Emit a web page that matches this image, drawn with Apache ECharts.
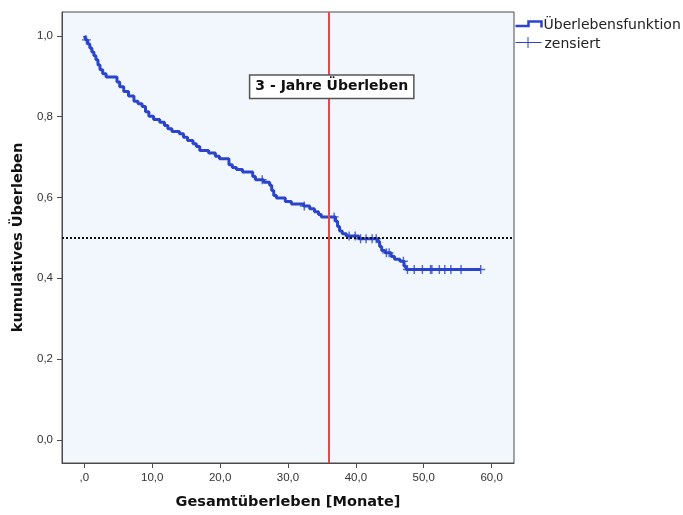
<!DOCTYPE html>
<html>
<head>
<meta charset="utf-8">
<script src="https://cdn.jsdelivr.net/npm/echarts@6/dist/echarts.min.js"></script>
<style>
  html, body { margin: 0; padding: 0; background: #ffffff; }
  #chart { width: 683px; height: 515px; }
</style>
</head>
<body>
<div id="chart"></div>
<script>
// Kaplan-Meier estimate: each entry is an event time (months) and the
// cumulative survival from that time on.
const stepMonths = [
  0.0, 0.2, 0.5, 0.8, 1.1, 1.4, 1.7, 2.0, 2.3, 2.7, 3.2,
  4.8, 5.2, 5.8, 6.5, 7.3, 7.9, 8.5, 9.0, 9.5,
  10.2, 11.1, 11.8, 12.3, 12.9, 14.0, 14.6, 15.2, 16.0, 16.5,
  17.0, 18.3, 19.3, 19.9, 21.3, 21.8, 22.4, 23.3, 24.8, 25.2,
  26.4, 27.3, 27.6, 27.9, 28.3, 29.6, 30.5, 32.3, 33.2, 33.9,
  34.5, 34.9, 37.0, 37.3, 37.6, 38.0, 38.6, 40.4,
  43.2, 43.5, 43.8, 44.3, 45.2, 45.7, 46.5, 47.1, 47.4, 58.4
];
const stepSurvival = [
  1.000, 0.990, 0.980, 0.970, 0.960, 0.951, 0.941, 0.928, 0.916, 0.906, 0.898,
  0.886, 0.874, 0.862, 0.851, 0.838, 0.832, 0.825, 0.812, 0.801,
  0.793, 0.786, 0.778, 0.770, 0.763, 0.758, 0.749, 0.741, 0.733, 0.726,
  0.716, 0.710, 0.702, 0.696, 0.681, 0.674, 0.669, 0.663, 0.652, 0.644,
  0.638, 0.630, 0.617, 0.605, 0.599, 0.590, 0.584, 0.579, 0.572, 0.565,
  0.558, 0.552, 0.541, 0.528, 0.517, 0.510, 0.505, 0.498,
  0.491, 0.479, 0.469, 0.463, 0.454, 0.447, 0.442, 0.430, 0.422, 0.422
];
// Censored observations (months)
const censorMonths = [
  0.3, 26.2, 32.4, 36.8, 39.0, 39.9, 40.7, 41.5, 42.4, 43.0,
  44.5, 44.9, 47.0, 47.6, 48.6, 49.8, 51.0, 51.2, 52.3, 53.1,
  54.0, 55.5, 58.4
];
const xTicks = [0, 10, 20, 30, 40, 50, 60];
const yTicks = [0, 0.2, 0.4, 0.6, 0.8, 1.0];
const cutoffMonths = 36;   // 3-year mark
const medianLevel = 0.5;
const cutoffLabel = '3 - Jahre Überleben';
const seriesNames = ['Überlebensfunktion', 'zensiert'];

function survivalAt(t) {
  let s = stepSurvival[0];
  for (let i = 0; i < stepMonths.length; i++) {
    if (stepMonths[i] <= t) s = stepSurvival[i]; else break;
  }
  return s;
}

const curveData = stepMonths.map((m, i) => [m, stepSurvival[i]]);
const censorData = censorMonths.map(m => [m, survivalAt(m)]);

const blue = '#2A44CC';
const axisColor = '#4a4a4a';

const chart = echarts.init(document.getElementById('chart'), null, { renderer: 'canvas' });
chart.setOption({
  animation: false,
  backgroundColor: '#ffffff',
  grid: {
    left: 62, right: 169, top: 12, bottom: 51,
    show: true, backgroundColor: '#F1F7FD', borderColor: axisColor, borderWidth: 1
  },
  xAxis: {
    type: 'value', min: -3.3, max: 63.3,
    name: 'Gesamtüberleben [Monate]', nameLocation: 'middle', nameGap: 32,
    nameTextStyle: { fontFamily: 'DejaVu Sans', fontWeight: 'bold', fontSize: 14.5, color: '#111' },
    axisLine: { show: true, onZero: false, lineStyle: { color: axisColor, width: 1 } },
    axisTick: { show: true, inside: false, length: 5, customValues: xTicks, lineStyle: { color: axisColor } },
    axisLabel: {
      customValues: xTicks, margin: 9,
      fontFamily: 'Liberation Sans', fontSize: 11.5, color: '#333',
      formatter: v => v === 0 ? ',0' : v.toFixed(1).replace('.', ',')
    },
    splitLine: { show: false }
  },
  yAxis: {
    type: 'value', min: -0.057, max: 1.059,
    name: 'kumulatives Überleben', nameLocation: 'middle', nameGap: 36,
    nameTextStyle: { fontFamily: 'DejaVu Sans', fontWeight: 'bold', fontSize: 14.5, color: '#111' },
    axisLine: { show: true, onZero: false, lineStyle: { color: axisColor, width: 1 } },
    axisTick: { show: true, inside: false, length: 5, customValues: yTicks, lineStyle: { color: axisColor } },
    axisLabel: {
      customValues: yTicks, margin: 9,
      fontFamily: 'Liberation Sans', fontSize: 11.5, color: '#333',
      formatter: v => v.toFixed(1).replace('.', ',')
    },
    splitLine: { show: false }
  },
  series: [
    {
      name: seriesNames[0],
      type: 'line', step: 'end', data: curveData,
      showSymbol: false, symbol: 'none',
      lineStyle: { color: blue, width: 3 },
      z: 3,
      markPoint: {
        symbol: 'rect', symbolSize: 0,
        data: [{ coord: [cutoffMonths, 0.874] }],
        label: {
          show: true, position: 'inside', offset: [3, 0],
          formatter: cutoffLabel,
          fontFamily: 'DejaVu Sans', fontWeight: 'bold', fontSize: 14, color: '#111',
          backgroundColor: '#ffffff', borderColor: '#555', borderWidth: 1.5,
          padding: [4, 5, 4, 5]
        },
        z: 10
      }
    },
    {
      name: seriesNames[1],
      type: 'scatter', data: censorData,
      symbol: 'path://M0,4.2 H10 V5.8 H0 Z M4.2,0 H5.8 V10 H4.2 Z',
      symbolSize: 9,
      itemStyle: { color: blue },
      z: 4
    },
    {
      name: 'Referenzlinien',
      type: 'line', data: [],
      z: 6,
      markLine: {
        silent: true, symbol: 'none', label: { show: false },
        data: [
          { xAxis: cutoffMonths, lineStyle: { color: '#E8474C', width: 2, type: 'solid' } },
          { yAxis: medianLevel, lineStyle: { color: '#111', width: 2, type: [2, 2] } }
        ]
      }
    }
  ],
  graphic: [
    {
      type: 'group', left: 513, top: 18,
      children: [
        { type: 'polyline', shape: { points: [[0, 7], [13, 7], [13, 2.5], [26, 2.5], [26, 8.5]] },
          style: { stroke: blue, lineWidth: 2.5, fill: null } },
        { type: 'text', x: 28, y: 6,
          style: { text: seriesNames[0], fontFamily: 'DejaVu Sans', fontSize: 14, fill: '#222', verticalAlign: 'middle' } },
        { type: 'line', shape: { x1: 0, y1: 23.5, x2: 26, y2: 23.5 }, style: { stroke: blue, lineWidth: 1 } },
        { type: 'line', shape: { x1: 12.5, y1: 18, x2: 12.5, y2: 29 }, style: { stroke: blue, lineWidth: 1 } },
        { type: 'text', x: 29, y: 25,
          style: { text: seriesNames[1], fontFamily: 'DejaVu Sans', fontSize: 14, fill: '#222', verticalAlign: 'middle' } }
      ]
    }
  ]
});
</script>
</body>
</html>
